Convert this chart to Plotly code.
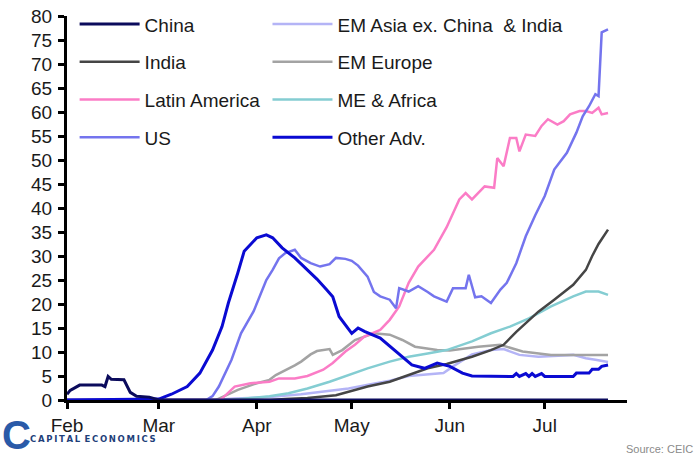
import plotly.graph_objects as go

FONT = "Liberation Sans Narrow, Arial Narrow, Liberation Sans, sans-serif"

# ---- data: share of new cases by region (%) ----
china_dates = ["2020-02-01", "2020-02-02", "2020-02-05", "2020-02-12", "2020-02-13",
               "2020-02-14", "2020-02-15", "2020-02-19", "2020-02-21", "2020-02-23",
               "2020-02-27", "2020-02-29", "2020-03-01", "2020-07-21"]
china_vals = [1.2, 2.0, 3.1, 3.1, 2.8, 4.9, 4.3, 4.2, 1.6, 0.8, 0.6, 0.1, 0.0, 0.0]

india_dates = ["2020-02-01", "2020-04-05", "2020-04-10", "2020-04-17", "2020-04-26",
               "2020-04-30", "2020-05-06", "2020-05-13", "2020-05-19", "2020-05-25",
               "2020-05-31", "2020-06-08", "2020-06-14", "2020-06-18", "2020-06-22",
               "2020-06-29", "2020-07-04", "2020-07-10", "2020-07-14", "2020-07-16",
               "2020-07-18", "2020-07-21"]
india_vals = [0.0, 0.0, 0.2, 0.4, 1.0, 1.7, 2.8, 3.8, 5.2, 6.6, 7.5, 9.0, 10.4, 11.5,
              14.2, 18.4, 20.9, 24.0, 27.1, 30.0, 32.5, 35.5]

latam_dates = ["2020-02-01", "2020-03-20", "2020-03-21", "2020-03-25", "2020-03-30",
               "2020-04-05", "2020-04-08", "2020-04-13", "2020-04-17", "2020-04-22",
               "2020-04-25", "2020-04-29", "2020-05-02", "2020-05-05", "2020-05-10",
               "2020-05-13", "2020-05-16", "2020-05-19", "2020-05-22", "2020-05-27",
               "2020-05-31", "2020-06-04", "2020-06-06", "2020-06-08", "2020-06-12",
               "2020-06-15", "2020-06-16", "2020-06-18", "2020-06-20", "2020-06-22",
               "2020-06-23", "2020-06-25", "2020-06-28", "2020-06-30", "2020-07-02",
               "2020-07-05", "2020-07-07", "2020-07-09", "2020-07-12", "2020-07-14",
               "2020-07-16", "2020-07-18", "2020-07-19", "2020-07-21"]
latam_vals = [0.0, 0.0, 0.3, 2.8, 3.5, 3.8, 4.5, 4.5, 5.0, 6.3, 7.7, 10.1, 11.5, 13.2,
              14.6, 16.7, 19.5, 24.4, 27.8, 31.3, 36.0, 41.8, 43.1, 41.8, 44.5, 44.2,
              50.4, 48.7, 54.6, 54.6, 51.8, 55.3, 55.0, 57.1, 58.5, 57.4, 58.1, 59.5,
              60.2, 60.2, 59.8, 60.9, 59.5, 59.8]

us_dates = ["2020-02-01", "2020-03-16", "2020-03-18", "2020-03-20", "2020-03-24",
            "2020-03-27", "2020-03-31", "2020-04-04", "2020-04-06", "2020-04-08",
            "2020-04-10", "2020-04-13", "2020-04-15", "2020-04-18", "2020-04-21",
            "2020-04-24", "2020-04-26", "2020-04-29", "2020-05-01", "2020-05-03",
            "2020-05-06", "2020-05-08", "2020-05-10", "2020-05-13", "2020-05-15",
            "2020-05-16", "2020-05-19", "2020-05-22", "2020-05-25", "2020-05-27",
            "2020-05-31", "2020-06-02", "2020-06-06", "2020-06-07", "2020-06-09",
            "2020-06-11", "2020-06-14", "2020-06-17", "2020-06-19", "2020-06-22",
            "2020-06-25", "2020-06-28", "2020-07-01", "2020-07-04", "2020-07-08",
            "2020-07-11", "2020-07-13", "2020-07-15", "2020-07-17", "2020-07-18",
            "2020-07-19", "2020-07-21"]
us_vals = [0.0, 0.0, 0.8, 2.8, 8.4, 13.9, 18.5, 25.0, 27.1, 29.5, 30.6, 31.3, 29.6,
           28.5, 27.8, 28.3, 29.6, 29.4, 29.0, 28.0, 25.7, 22.5, 21.6, 20.9, 19.1,
           23.3, 22.6, 23.7, 22.5, 21.6, 20.5, 23.3, 23.3, 26.1, 21.4, 21.6, 20.2,
           23.0, 24.4, 28.5, 34.1, 38.5, 42.5, 48.0, 51.5, 55.7, 59.1, 61.2, 63.7,
           63.3, 76.6, 77.2]

emasia_dates = ["2020-02-01", "2020-03-18", "2020-03-25", "2020-04-05", "2020-04-15",
                "2020-04-24", "2020-04-30", "2020-05-07", "2020-05-13", "2020-05-19",
                "2020-05-24", "2020-05-30", "2020-06-02", "2020-06-05", "2020-06-08",
                "2020-06-14", "2020-06-18", "2020-06-23", "2020-06-29", "2020-07-10",
                "2020-07-14", "2020-07-17", "2020-07-21"]
emasia_vals = [0.0, 0.0, 0.3, 0.6, 1.2, 2.0, 2.4, 3.3, 4.0, 5.0, 5.3, 5.6, 7.0, 8.2,
               9.5, 10.4, 10.6, 9.4, 9.0, 9.4, 8.7, 8.4, 7.9]

emeurope_dates = ["2020-02-01", "2020-03-19", "2020-03-20", "2020-03-26", "2020-04-01",
                  "2020-04-05", "2020-04-07", "2020-04-11", "2020-04-13", "2020-04-15",
                  "2020-04-18", "2020-04-20", "2020-04-24", "2020-04-25", "2020-04-28",
                  "2020-05-02", "2020-05-08", "2020-05-13", "2020-05-17", "2020-05-21",
                  "2020-05-28", "2020-06-01", "2020-06-07", "2020-06-10", "2020-06-17",
                  "2020-06-19", "2020-06-24", "2020-07-03", "2020-07-21"]
emeurope_vals = [0.0, 0.0, 0.3, 2.1, 3.5, 4.2, 5.2, 6.5, 7.2, 8.0, 9.5, 10.2, 10.6,
                 9.4, 10.4, 12.5, 13.9, 13.6, 12.5, 11.1, 10.4, 10.3, 10.8, 11.1,
                 11.5, 11.1, 10.1, 9.4, 9.4]

meafrica_dates = ["2020-02-01", "2020-03-24", "2020-03-30", "2020-04-05", "2020-04-11",
                  "2020-04-17", "2020-04-24", "2020-04-30", "2020-05-06", "2020-05-13",
                  "2020-05-19", "2020-05-25", "2020-05-31", "2020-06-08", "2020-06-14",
                  "2020-06-20", "2020-06-26", "2020-07-03", "2020-07-10", "2020-07-14",
                  "2020-07-18", "2020-07-21"]
meafrica_vals = [0.0, 0.0, 0.4, 0.8, 1.4, 2.4, 3.8, 5.2, 6.6, 8.0, 9.0, 9.7, 10.4,
                 12.2, 13.9, 15.3, 17.0, 19.5, 21.6, 22.6, 22.6, 21.9]

otheradv_dates = ["2020-02-01", "2020-03-01", "2020-03-05", "2020-03-10", "2020-03-14",
                  "2020-03-18", "2020-03-21", "2020-03-23", "2020-03-26", "2020-03-28",
                  "2020-04-01", "2020-04-04", "2020-04-06", "2020-04-09", "2020-04-13",
                  "2020-04-20", "2020-04-23", "2020-04-25", "2020-04-27", "2020-05-01",
                  "2020-05-03", "2020-05-05", "2020-05-10", "2020-05-15", "2020-05-20",
                  "2020-05-24", "2020-05-28", "2020-06-01", "2020-06-05", "2020-06-08",
                  "2020-06-21", "2020-06-22", "2020-06-23", "2020-06-25", "2020-06-26",
                  "2020-06-27", "2020-06-28", "2020-06-30", "2020-07-01", "2020-07-10",
                  "2020-07-11", "2020-07-15", "2020-07-16", "2020-07-18", "2020-07-19",
                  "2020-07-21"]
otheradv_vals = [0.0, 0.2, 1.2, 2.8, 5.6, 10.4, 15.3, 20.2, 26.5, 31.0, 33.8, 34.4,
                 33.8, 31.7, 29.6, 25.2, 23.0, 21.5, 17.4, 13.9, 15.0, 14.3, 12.9,
                 10.1, 7.3, 6.6, 7.7, 7.0, 5.6, 5.0, 4.9, 5.5, 4.9, 5.5, 4.9, 5.5,
                 4.9, 5.5, 4.9, 4.9, 5.6, 5.6, 6.4, 6.4, 7.0, 7.3]

month_ticks = ["2020-02-01", "2020-03-01", "2020-04-01", "2020-05-01",
               "2020-06-01", "2020-07-01"]
month_labels = ["Feb", "Mar", "Apr", "May", "Jun", "Jul"]
y_ticks = list(range(0, 81, 5))

# (name, dates, values, colour, width, legend, rank) in drawing order
series = [
    ("EM Asia ex. China\u00a0 & India", emasia_dates, emasia_vals, "#b4b4f6", 2.5, "legend2", 1),
    ("EM Europe", emeurope_dates, emeurope_vals, "#a3a3a3", 2.5, "legend2", 2),
    ("ME & Africa", meafrica_dates, meafrica_vals, "#84cdd2", 2.5, "legend2", 3),
    ("India", india_dates, india_vals, "#454545", 2.5, "legend", 2),
    ("Latin America", latam_dates, latam_vals, "#fb7cc6", 2.5, "legend", 3),
    ("US", us_dates, us_vals, "#7474ee", 2.5, "legend", 4),
    ("Other Adv.", otheradv_dates, otheradv_vals, "#0a0ad2", 3, "legend2", 4),
    ("China", china_dates, china_vals, "#0b0b5c", 3, "legend", 1),
]

fig = go.Figure()
for name, d, v, col, w, leg, rank in series:
    fig.add_trace(go.Scatter(
        x=d, y=v, name=name, mode="lines",
        line=dict(color=col, width=w),
        legend=leg, legendgroup=name, legendrank=rank,
    ))

axis_common = dict(
    showgrid=False, zeroline=False, showline=True,
    linecolor="black", linewidth=3,
    ticks="outside", ticklen=6, tickwidth=2.5, tickcolor="black",
    tickfont=dict(family=FONT, size=19, color="#1a1a1a"),
)

legend_common = dict(
    font=dict(family=FONT, size=19, color="#1a1a1a"),
    bgcolor="rgba(0,0,0,0)", orientation="v",
    tracegroupgap=10, yanchor="top", xanchor="left",
    itemwidth=60,
    itemclick=False, itemdoubleclick=False,
)

fig.update_layout(
    width=698, height=456,
    margin=dict(l=67, r=71, t=16, b=56, autoexpand=False),
    paper_bgcolor="white", plot_bgcolor="white",
    showlegend=True,
    xaxis=dict(
        type="date", range=["2020-02-01", "2020-07-27"],
        tickmode="array", tickvals=month_ticks, ticktext=month_labels,
        **axis_common,
    ),
    yaxis=dict(
        range=[0, 80], tickmode="array", tickvals=y_ticks,
        ticklabelstandoff=2,
        **axis_common,
    ),
    yaxis2=dict(
        range=[0, 80], tickmode="array", tickvals=y_ticks,
        overlaying="y", side="right", anchor="x",
        ticklabelstandoff=5,
        **axis_common,
    ),
    legend=dict(x=0.0136, y=1.028, **legend_common),
    legend2=dict(x=0.358, y=1.028, **legend_common),
    annotations=[
        dict(text="<b>C</b>", x=0.0, y=0.0, xref="paper", yref="paper",
             xanchor="left", yanchor="middle", xshift=-67, yshift=-35,
             showarrow=False, font=dict(family="Liberation Sans", size=40, color="#2a5aa8")),
        dict(text="<b>C\u2009A\u2009P\u2009I\u2009T\u2009A\u2009L\u2002E\u2009C\u2009O\u2009N\u2009O\u2009M\u2009I\u2009C\u2009S</b>",
             x=0.0, y=0.0, xref="paper", yref="paper",
             xanchor="left", yanchor="middle", xshift=-39, yshift=-39,
             showarrow=False, font=dict(family="DejaVu Sans", size=8.5, color="#1f3f7a")),
        dict(text="Source: CEIC", x=1.0, y=0.0, xref="paper", yref="paper",
             xanchor="right", yanchor="middle", xshift=68, yshift=-49,
             showarrow=False, font=dict(family=FONT, size=11, color="#8a8a8a")),
    ],
)

fig.write_html("out.html")
